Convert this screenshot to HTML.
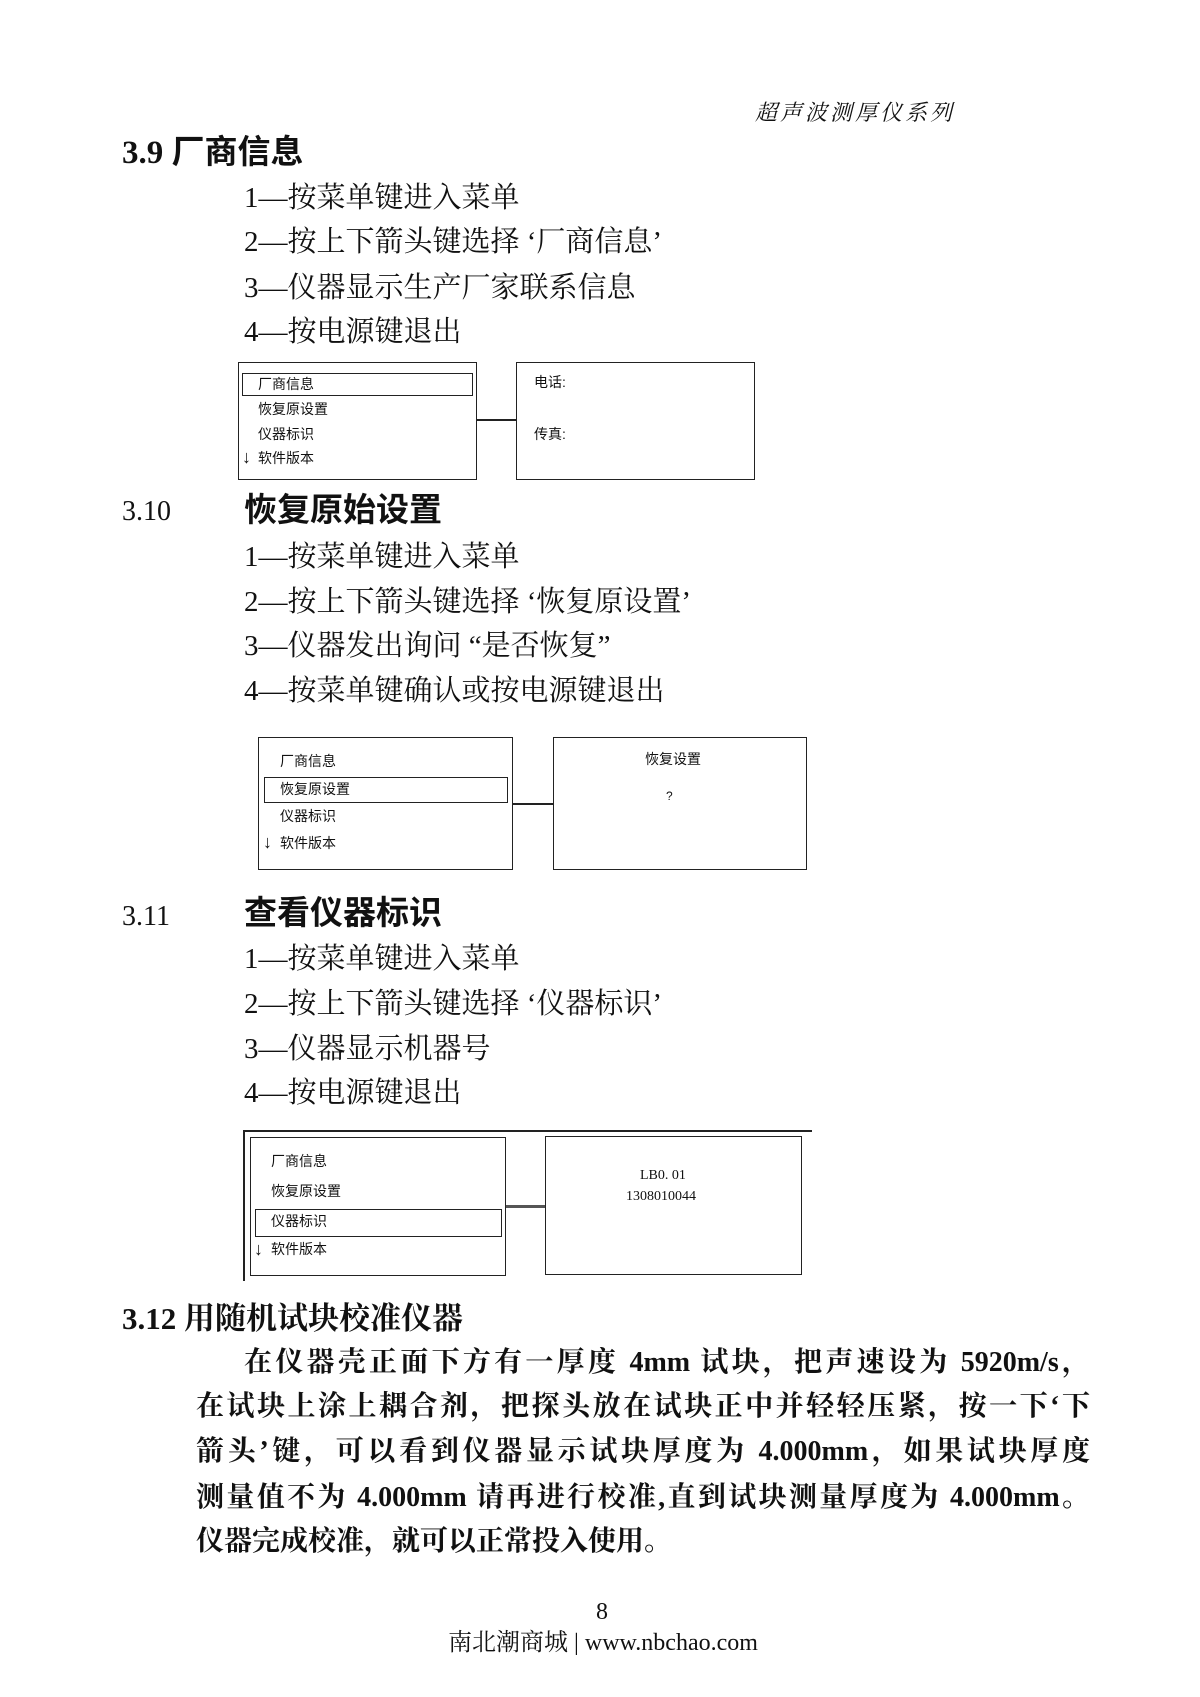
<!DOCTYPE html>
<html><head><meta charset="utf-8"><style>
body{margin:0;background:#fff}
#p{position:relative;width:1200px;height:1697px;overflow:hidden;background:#fff;font-family:"Liberation Serif","Noto Serif CJK SC",serif;color:#111}
.t{position:absolute;white-space:nowrap;line-height:1}
.s{font-size:29px}
.h{font-size:33px;font-family:"Liberation Serif","Noto Sans CJK SC",sans-serif;font-weight:bold}
.b{position:absolute;border:1.5px solid #222;box-sizing:border-box}
.m{position:absolute;font-size:14px;font-family:"Liberation Sans","Noto Sans CJK SC",sans-serif;line-height:1;white-space:nowrap}
.ln{position:absolute;background:#222}
.pb{position:absolute;font-weight:bold;font-size:28px;line-height:1;white-space:nowrap;width:894px;left:196px;text-align:justify;text-align-last:justify}
</style></head><body><div id="p">
<div class="t" style="left:755px;top:102px;font-size:22px;font-style:italic;letter-spacing:3px">超声波测厚仪系列</div>

<div class="t h" style="left:122px;top:137px">3.9 厂商信息</div>
<div class="t s" style="left:244px;top:184px">1—按菜单键进入菜单</div>
<div class="t s" style="left:244px;top:228px">2—按上下箭头键选择 ‘厂商信息’</div>
<div class="t s" style="left:244px;top:274px">3—仪器显示生产厂家联系信息</div>
<div class="t s" style="left:244px;top:318px">4—按电源键退出</div>

<div class="b" style="left:238px;top:362px;width:239px;height:118px"></div>
<div class="b" style="left:242px;top:373px;width:231px;height:23px"></div>
<div class="m" style="left:258px;top:377px">厂商信息</div>
<div class="m" style="left:258px;top:402px">恢复原设置</div>
<div class="m" style="left:258px;top:427px">仪器标识</div>
<div class="m" style="left:258px;top:451px">软件版本</div>
<div class="m" style="left:242px;top:448px;font-size:18px">↓</div>
<div class="ln" style="left:477px;top:419px;width:39px;height:2px"></div>
<div class="b" style="left:516px;top:362px;width:239px;height:118px"></div>
<div class="m" style="left:534px;top:375px">电话:</div>
<div class="m" style="left:534px;top:427px">传真:</div>

<div class="t" style="left:122px;top:498px;font-size:28px">3.10</div>
<div class="t h" style="left:244px;top:495px">恢复原始设置</div>
<div class="t s" style="left:244px;top:543px">1—按菜单键进入菜单</div>
<div class="t s" style="left:244px;top:588px">2—按上下箭头键选择 ‘恢复原设置’</div>
<div class="t s" style="left:244px;top:632px">3—仪器发出询问 “是否恢复”</div>
<div class="t s" style="left:244px;top:677px">4—按菜单键确认或按电源键退出</div>

<div class="b" style="left:258px;top:737px;width:255px;height:133px"></div>
<div class="b" style="left:264px;top:777px;width:244px;height:26px"></div>
<div class="m" style="left:280px;top:754px">厂商信息</div>
<div class="m" style="left:280px;top:782px">恢复原设置</div>
<div class="m" style="left:280px;top:809px">仪器标识</div>
<div class="m" style="left:280px;top:836px">软件版本</div>
<div class="m" style="left:263px;top:833px;font-size:18px">↓</div>
<div class="ln" style="left:513px;top:803px;width:40px;height:2px"></div>
<div class="b" style="left:553px;top:737px;width:254px;height:133px"></div>
<div class="m" style="left:645px;top:752px">恢复设置</div>
<div class="m" style="left:666px;top:790px;font-size:12px">?</div>

<div class="t" style="left:122px;top:903px;font-size:28px">3.11</div>
<div class="t h" style="left:244px;top:898px">查看仪器标识</div>
<div class="t s" style="left:244px;top:945px">1—按菜单键进入菜单</div>
<div class="t s" style="left:244px;top:990px">2—按上下箭头键选择 ‘仪器标识’</div>
<div class="t s" style="left:244px;top:1035px">3—仪器显示机器号</div>
<div class="t s" style="left:244px;top:1079px">4—按电源键退出</div>

<div class="ln" style="left:243px;top:1130px;width:569px;height:1.5px"></div>
<div class="ln" style="left:243px;top:1130px;width:1.5px;height:151px"></div>
<div class="b" style="left:250px;top:1137px;width:256px;height:139px"></div>
<div class="b" style="left:255px;top:1209px;width:247px;height:28px"></div>
<div class="m" style="left:271px;top:1154px">厂商信息</div>
<div class="m" style="left:271px;top:1184px">恢复原设置</div>
<div class="m" style="left:271px;top:1214px">仪器标识</div>
<div class="m" style="left:271px;top:1242px">软件版本</div>
<div class="m" style="left:254px;top:1240px;font-size:18px">↓</div>
<div class="ln" style="left:506px;top:1205px;width:39px;height:2.5px;background:#555"></div>
<div class="b" style="left:545px;top:1136px;width:257px;height:139px"></div>
<div class="m" style="left:640px;top:1169px;font-family:'Liberation Serif',serif">LB0. 01</div>
<div class="m" style="left:626px;top:1190px;font-family:'Liberation Serif',serif">1308010044</div>

<div class="t" style="left:122px;top:1303px;font-size:31px;font-weight:bold">3.12 用随机试块校准仪器</div>
<div class="pb" style="left:244px;width:846px;top:1349px">在仪器壳正面下方有一厚度 4mm 试块，把声速设为 5920m/s，</div>
<div class="pb" style="top:1393px">在试块上涂上耦合剂，把探头放在试块正中并轻轻压紧，按一下‘下</div>
<div class="pb" style="top:1438px">箭头’键，可以看到仪器显示试块厚度为 4.000mm，如果试块厚度</div>
<div class="pb" style="top:1484px">测量值不为 4.000mm 请再进行校准,直到试块测量厚度为 4.000mm。</div>
<div class="pb" style="top:1528px;text-align-last:left;width:auto">仪器完成校准，就可以正常投入使用。</div>

<div class="t" style="left:596px;top:1600px;font-size:24px">8</div>
<div class="t" style="left:603px;top:1631px;font-size:24px;transform:translateX(-50%)">南北潮商城 | www.nbchao.com</div>
</div></body></html>
